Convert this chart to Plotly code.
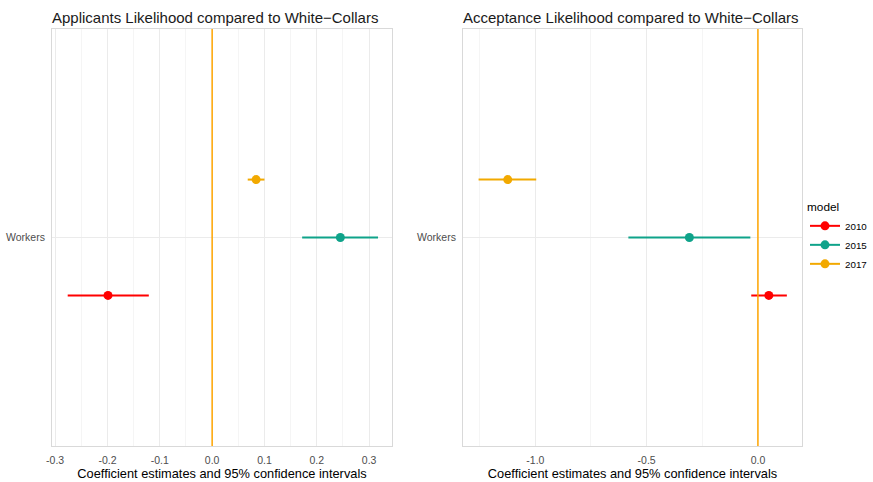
import plotly.graph_objects as go

models = ["2010", "2015", "2017"]
colors = {"2010": "#FF0000", "2015": "#0FA38A", "2017": "#F2A900"}
dodge = {"2010": -1/6, "2015": 0.0, "2017": 1/6}
category = ["Workers"]

# Applicants panel
app_est = [-0.199, 0.245, 0.084]
app_lo = [-0.276, 0.172, 0.068]
app_hi = [-0.121, 0.317, 0.100]

# Acceptance panel
acc_est = [0.049, -0.308, -1.124]
acc_lo = [-0.030, -0.582, -1.255]
acc_hi = [0.130, -0.034, -0.996]

left_ticks = [-0.3, -0.2, -0.1, 0.0, 0.1, 0.2, 0.3]
left_labels = ["-0.3", "-0.2", "-0.1", "0.0", "0.1", "0.2", "0.3"]
right_ticks = [-1.0, -0.5, 0.0]
right_labels = ["-1.0", "-0.5", "0.0"]

titles = ["Applicants Likelihood compared to White\u2212Collars",
          "Acceptance Likelihood compared to White\u2212Collars"]
xlabel = "Coefficient estimates and 95% confidence intervals"

fig = go.Figure()
panels = [("x", "y", app_est, app_lo, app_hi), ("x2", "y2", acc_est, acc_lo, acc_hi)]
for p, (xa, ya, est, lo, hi) in enumerate(panels):
    for i, m in enumerate(models):
        yv = 1 + dodge[m]
        fig.add_trace(go.Scatter(
            x=[lo[i], hi[i]], y=[yv, yv], mode="lines",
            line=dict(color=colors[m], width=2), xaxis=xa, yaxis=ya,
            showlegend=False, hoverinfo="skip"))
        fig.add_trace(go.Scatter(
            x=[est[i]], y=[yv], mode="lines+markers", name=m,
            line=dict(color=colors[m], width=2),
            marker=dict(color=colors[m], size=9),
            xaxis=xa, yaxis=ya, showlegend=(p == 0), legendgroup=m))

grid = "#EBEBEB"
minor_grid = "#F5F5F5"
border = "#D9D9D9"
tickfont = dict(family="Liberation Sans, Arial", size=10.5, color="#4D4D4D")
titlefont = dict(family="Liberation Sans, Arial", size=12.8, color="#000000")

ydom = [1 - 446/482, 1 - 29/482]
common_x = dict(showline=True, linecolor=border, linewidth=1, mirror=True,
                showgrid=True, gridcolor=grid, gridwidth=1, zeroline=False,
                automargin=False, ticklabelstandoff=4,
                ticks="", tickfont=tickfont, title=dict(text=xlabel, font=titlefont, standoff=0))
common_y = dict(showline=True, linecolor=border, linewidth=1, mirror=True,
                showgrid=True, gridcolor=grid, zeroline=False, range=[0.4, 1.6],
                automargin=False, ticklabelstandoff=4,
                tickvals=[1], ticktext=category, ticks="", tickfont=tickfont, domain=ydom)

fig.update_layout(
    width=873, height=482,
    margin=dict(l=0, r=0, t=0, b=0, autoexpand=False),
    paper_bgcolor="white", plot_bgcolor="white",
    font=dict(family="Liberation Sans, Arial"),
    xaxis=dict(domain=[52/873, 392/873], range=[-0.306, 0.3437],
               tickvals=left_ticks, ticktext=left_labels,
               minor=dict(dtick=0.05, tick0=0, showgrid=True, gridcolor=minor_grid, gridwidth=1),
               **common_x),
    xaxis2=dict(domain=[463/873, 802/873], range=[-1.325, 0.198],
                tickvals=right_ticks, ticktext=right_labels,
                minor=dict(dtick=0.25, tick0=0, showgrid=True, gridcolor=minor_grid, gridwidth=1),
                **common_x),
    yaxis=dict(anchor="x", **common_y),
    yaxis2=dict(anchor="x2", **common_y),
    legend=dict(title=dict(text="model", font=dict(size=11.8, color="#000000")),
                x=1.0, y=1 - 196/482, xanchor="right", yanchor="top",
                font=dict(size=9.8, color="#000000"),
                tracegroupgap=0, bgcolor="rgba(0,0,0,0)"),
    showlegend=True,
)

for xa, ya in [("x", "y"), ("x2", "y2")]:
    fig.add_shape(type="line", xref=xa, yref=ya + " domain", x0=0, x1=0, y0=0, y1=1,
                  line=dict(color="#FFA500", width=1.5), layer="above")

for t, x0 in zip(titles, [50/873, 461/873]):
    fig.add_annotation(text=t, x=x0, y=1 - 28/482, xref="paper", yref="paper",
                       xanchor="left", yanchor="bottom", showarrow=False,
                       font=dict(family="Liberation Sans, Arial", size=15, color="#1A1A1A"))

fig.write_html("out.html", config={"displayModeBar": False},
               post_script="document.body.style.margin='0px';")
